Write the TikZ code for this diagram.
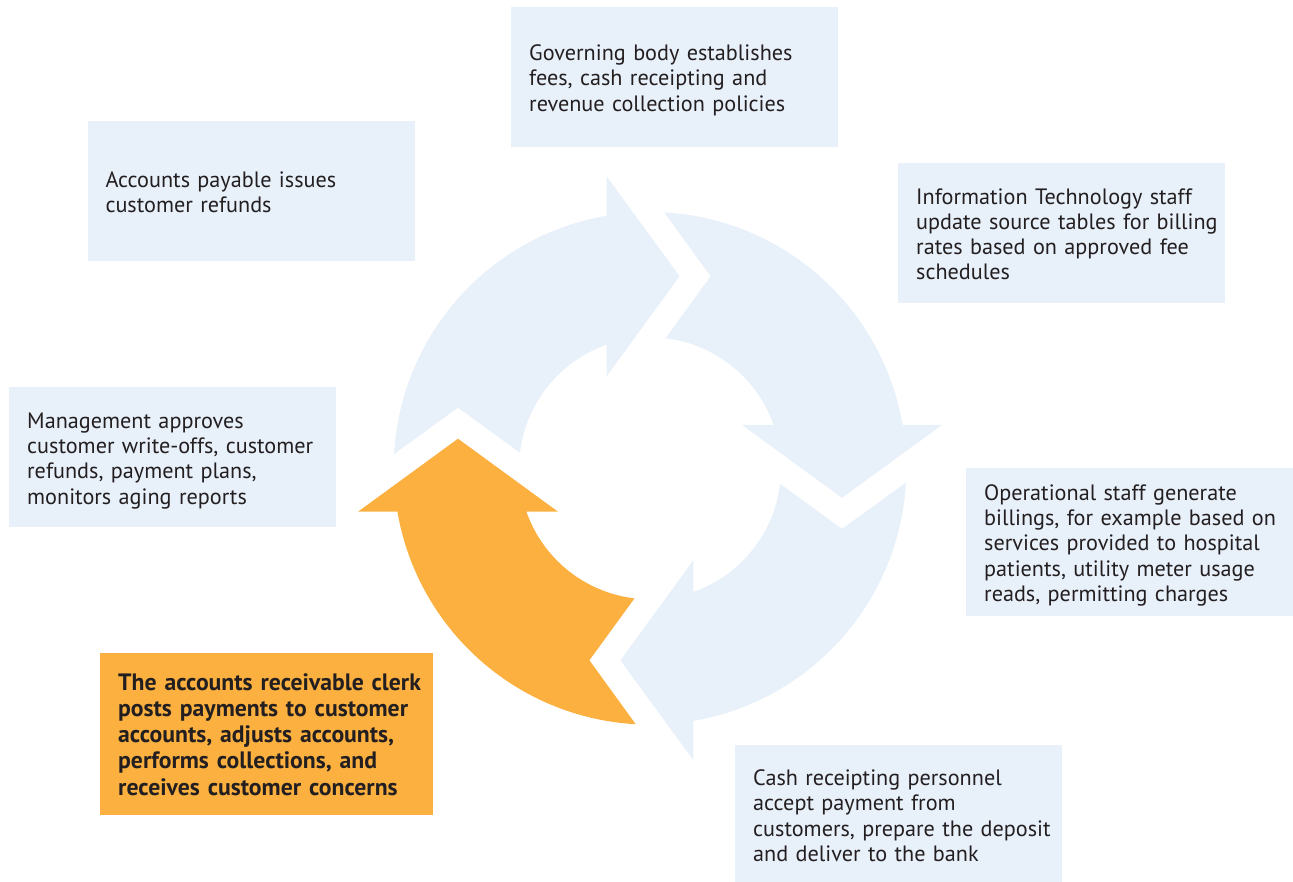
\documentclass[tikz,border=0pt]{standalone}
\usepackage{fontspec}
\setmainfont{PT Sans}
\definecolor{boxblue}{RGB}{232,240,250}
\definecolor{arrorange}{RGB}{251,176,64}
\definecolor{txt}{RGB}{35,31,32}
\newcommand{\bxt}[1]{\noindent\raisebox{-4pt}[\height][\depth]{\begin{tabular}{@{}l@{}}#1\end{tabular}}}
\begin{document}
\begin{tikzpicture}[x=1pt,y=-1pt,
  infobox/.style={fill=boxblue, draw=none, text=txt, anchor=north west, align=left,
    inner xsep=18pt, inner ysep=0pt, font=\fontsize{22.2}{25.3}\selectfont},
  arbox/.style={infobox, fill=arrorange, font=\bfseries\fontsize{23.7}{26.2}\selectfont}]
\useasboundingbox (0,0) rectangle (1293,882);
% cycle of arrows
\begin{scope}[shift={(650,468.3)}, yscale=-1]
  \foreach \k/\col in {0/arrorange, 1/boxblue, 2/boxblue, 3/boxblue} {
    \fill[\col, rotate=-90*\k] (-252.6,-43.4) -- (-292,-43.4) -- (-192,29.6) -- (-92,-43.4)
      -- (-123.6,-43.4) arc[start angle=199.35, end angle=263.2, radius=131]
      -- (-60.6,-192) -- (266.8:256.3) arc[start angle=266.8, end angle=189.75, radius=256.3]
      -- cycle;
  }
\end{scope}
% boxes
\node[infobox, text width=291pt, minimum height=140pt] (gov) at (511,6.7)
  {\bxt{Governing body establishes\\fees, cash receipting and\\revenue collection policies}};
\node[infobox, text width=291pt, minimum height=140pt] (ap) at (87.3,121)
  {\bxt{Accounts payable issues\\customer refunds}};
\node[infobox, text width=291pt, minimum height=139.5pt] (it) at (898,163)
  {\bxt{Information Technology staff\\update source tables for billing\\rates based on approved fee\\schedules}};
\node[infobox, text width=291pt, minimum height=139.5pt] (mgmt) at (9,387.3)
  {\bxt{Management approves\\customer write-offs, customer\\refunds, payment plans,\\monitors aging reports}};
\node[infobox, text width=291pt, minimum height=148.4pt] (ops) at (966,467.3)
  {\bxt{Operational staff generate\\billings, for example based on\\services provided to hospital\\patients, utility meter usage\\reads, permitting charges}};
\node[infobox, text width=291pt, minimum height=140pt] (cash) at (735,744.3)
  {\bxt{Cash receipting personnel\\accept payment from\\customers, prepare the deposit\\and deliver to the bank}};
\node[arbox, text width=296.7pt, minimum height=162pt] (ar) at (100,652.3)
  {\bxt{The accounts receivable clerk\\posts payments to customer\\accounts, adjusts accounts,\\performs collections, and\\receives customer concerns}};
\end{tikzpicture}
\end{document}
